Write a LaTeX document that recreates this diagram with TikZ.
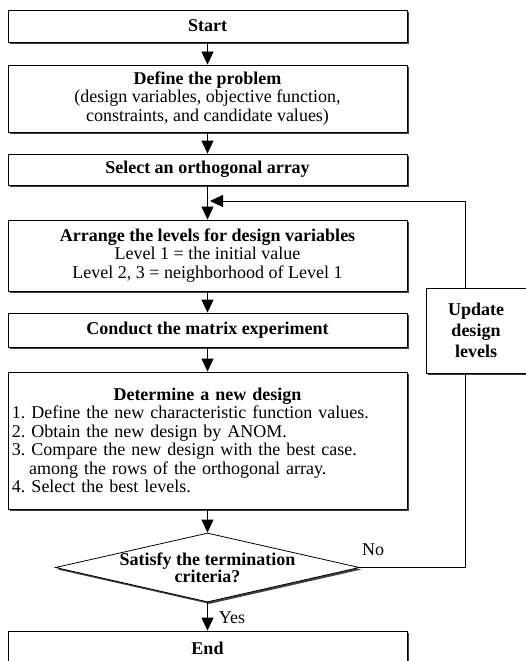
\documentclass[tikz,border=0pt]{standalone}
\usepackage{fontspec}
\setmainfont{Liberation Serif}
\usetikzlibrary{arrows.meta,shapes.geometric,shadows}
\setlength{\parindent}{0pt}
\frenchspacing

\begin{document}
\begin{tikzpicture}
	[x=1pt,y=-1pt,every node/.style={font=\fontsize{18}{18.5}\selectfont}]
	\tikzset{box/.style = {draw,fill=white,line width=.8pt,minimum width=399pt,inner sep=2pt,align=center,
		drop shadow={shadow xshift=2pt,shadow yshift=-2pt,fill=black!75,opacity=1}}}
	\tikzset{edge/.style = {-{Triangle[width=12pt,length=13pt]},line width=.8pt}}
	\useasboundingbox (0,0) rectangle (525,661);

	\node[box,minimum height=32pt] (start) at (207.5,26) {\textbf{Start}};
	\node[box,minimum height=67pt] (problem) at (207.5,98.5) {\textbf{Define the problem}\\(design variables, objective function,\\constraints, and candidate values)};
	\node[box,minimum height=31pt] (array) at (207.5,169.5) {\textbf{Select an orthogonal array}};
	\node[box,minimum height=71pt] (levels) at (207.5,255.5) {\textbf{Arrange the levels for design variables}\\Level 1 = the initial value\\Level 2, 3 = neighborhood of Level 1};
	\node[box,minimum height=34pt] (exper) at (207.5,330) {\textbf{Conduct the matrix experiment}};
	\node[box,minimum height=137pt,text width=391pt,align=left] (design) at (207.5,440.5)
		{\makebox[\linewidth]{\textbf{Determine a new design}}\\
		1. Define the new characteristic function values.\\
		2. Obtain the new design by ANOM.\\
		3. Compare the new design with the best case.\\
		\hspace*{0.95em}among the rows of the orthogonal array.\\
		4. Select the best levels.};
	\node[box,diamond,minimum width=304pt,minimum height=69pt,inner sep=0pt,
		label={[align=center,font=\fontsize{18}{16}\selectfont\bfseries]center:Satisfy the termination\\criteria?}] (check) at (207.5,567.5) {};
	\node[box,minimum height=34pt] (stop) at (207.5,648) {\textbf{End}};

	\foreach \from/\to in {start/problem,problem/array,array/levels,levels/exper,exper/design,design/check,check/stop}
	\draw[edge] (\from)--(\to);

	% loop back
	\coordinate (turn) at (465,201);
	\coordinate (join) at (210,201);
	\draw[edge] (check.east) -| (turn) -- (join);
	\node (no) at (373,550) {No};
	\node (yes) at (232,618) {Yes};
	\node[box,minimum width=100pt,minimum height=85pt,font=\fontsize{18}{21}\selectfont\bfseries] (update) at (476,330.5) {Update\\design\\levels};
\end{tikzpicture}
\end{document}
